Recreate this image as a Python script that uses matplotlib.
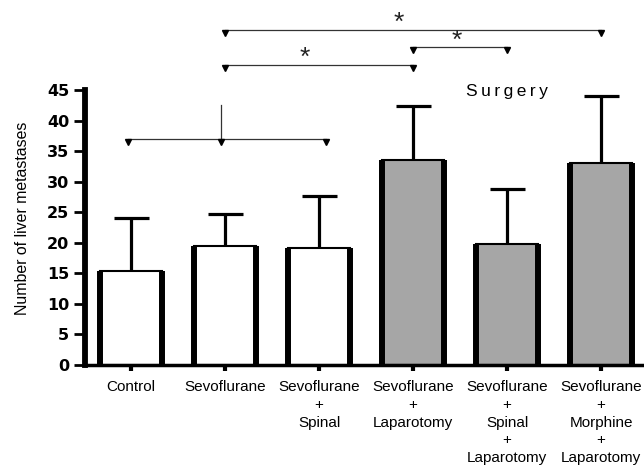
import matplotlib.pyplot as plt
import numpy as np

plt.rcParams['font.family'] = ['Liberation Sans', 'DejaVu Sans']

groups = ['Control', 'Sevoflurane', 'Sevoflurane\n+\nSpinal',
          'Sevoflurane\n+\nLaparotomy', 'Sevoflurane\n+\nSpinal\n+\nLaparotomy',
          'Sevoflurane\n+\nMorphine\n+\nLaparotomy']
means = [15.4, 19.4, 19.1, 33.5, 19.8, 33.1]
sem = [8.6, 5.3, 8.6, 8.9, 9.0, 11.0]
fills = ['white', 'white', 'white', '#a6a6a6', '#a6a6a6', '#a6a6a6']
yticks = list(range(0, 46, 5))

# significance brackets: (left group, right group, height)
brackets = [(1, 5, 54.8), (3, 4, 52.0), (1, 3, 49.1)]
star_pos = [(2.85, 56.0), (3.47, 53.1), (1.85, 50.3)]

fig = plt.figure(figsize=(6.44, 4.66), dpi=100)
ax = fig.add_axes([84.5 / 644, 101 / 466, 559.5 / 644, 365 / 466])

x = np.arange(len(groups))
w = 0.66
ax.bar(x, means, width=w, color=fills, edgecolor='black', linewidth=1.5, zorder=2)
# heavy side walls on each bar
ax.vlines(np.concatenate([x - w / 2, x + w / 2]), 0, np.concatenate([means, means]),
          color='black', linewidth=4.3, zorder=3)

# upper error bars only
tops = np.array(means) + np.array(sem)
ax.vlines(x, means, tops, color='black', linewidth=2.3, zorder=1)
ax.hlines(tops, x - 0.186, x + 0.186, color='black', linewidth=2.3, zorder=1)

# bracket over the non-surgery groups
ax.plot([-0.03, 2.07], [37.0, 37.0], color='#333333', lw=0.9, clip_on=False)
ax.plot([0.96, 0.96], [37.0, 42.5], color='#333333', lw=0.9, clip_on=False)
ax.plot([-0.03, 0.96, 2.07], [36.5] * 3, 'v', color='black', ms=5, clip_on=False)

for a, b, h in brackets:
    ax.plot([a, b], [h, h], color='#333333', lw=0.9, clip_on=False)
    ax.plot([a, b], [h - 0.5, h - 0.5], 'v', color='black', ms=5, clip_on=False)
for sx, sy in star_pos:
    ax.text(sx, sy, '*', fontsize=19, ha='center', va='center', color='#222222')

ax.text(4.0, 44.8, 'S\u2009u\u2009r\u2009g\u2009e\u2009r\u2009y', fontsize=12.5,
        ha='center', va='center')

ax.set_xlim(-0.495, 5.457)
ax.set_ylim(0, 59.73)
ax.set_yticks(yticks)
ax.set_yticklabels([str(v) for v in yticks], fontweight='heavy',
                   fontsize=11.5, family='DejaVu Sans')
ax.set_xticks(x)
ax.set_xticklabels(groups, fontsize=11, linespacing=1.34)
ax.set_ylabel('Number of liver metastases', fontsize=11.4)
ax.yaxis.set_label_coords(-0.097, 0.403)

for s in ['top', 'right']:
    ax.spines[s].set_visible(False)
ax.spines['left'].set_bounds(0, 45)
ax.spines['left'].set_linewidth(4.2)
ax.spines['bottom'].set_linewidth(2.5)
ax.tick_params(axis='y', length=8, width=2, pad=3)
ax.tick_params(axis='x', length=4, width=3, pad=7)

fig.savefig('out.png', dpi=100)
